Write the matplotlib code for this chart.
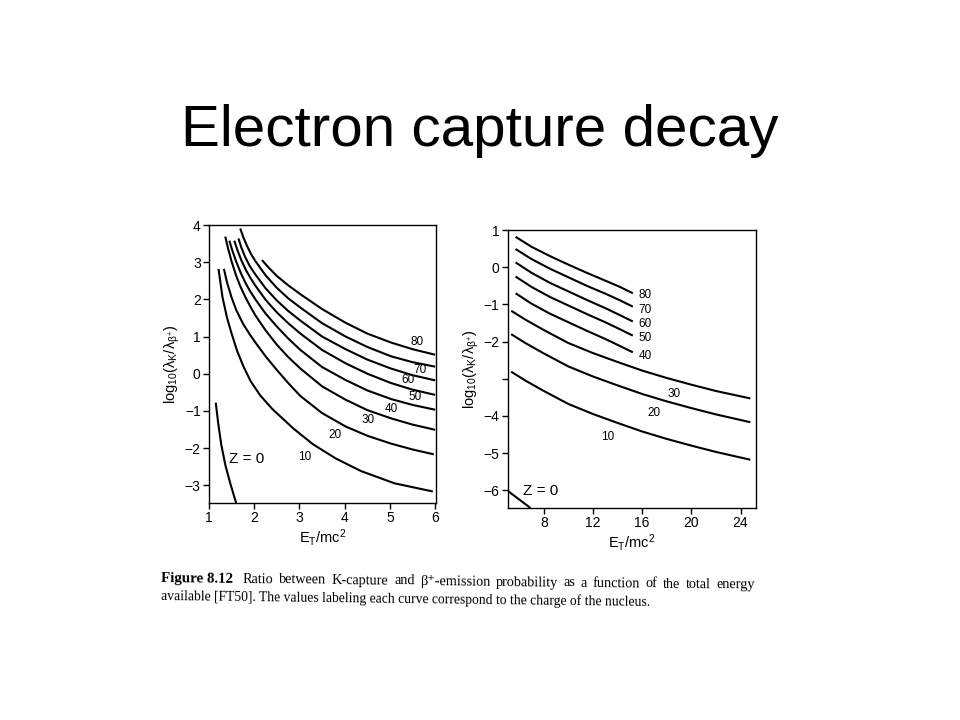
import math
import matplotlib
matplotlib.use('Agg')
import matplotlib.pyplot as plt

plt.rcParams['font.family'] = ['Liberation Sans', 'DejaVu Sans']
plt.rcParams['mathtext.default'] = 'regular'

# left panel: E_T/mc^2 from 1 to 6, log10 ratio
left_curves = {
    'Z=0': ([1.15, 1.20, 1.27, 1.36, 1.47, 1.60], [-0.78, -1.30, -1.90, -2.45, -2.95, -3.48]),
    '10': ([1.21, 1.30, 1.40, 1.50, 1.62, 1.76, 1.92, 2.13, 2.40, 2.87, 3.30, 3.80, 4.36, 5.10, 5.95],
           [2.82, 2.05, 1.50, 1.08, 0.62, 0.20, -0.20, -0.58, -0.95, -1.48, -1.90, -2.28, -2.62, -2.95, -3.17]),
    '20': ([1.33, 1.40, 1.50, 1.60, 1.75, 1.90, 2.02, 2.25, 2.50, 2.75, 3.02, 3.50, 4.02, 4.50, 5.02, 5.50, 5.97],
           [2.82, 2.45, 2.05, 1.72, 1.35, 1.06, 0.85, 0.47, 0.10, -0.25, -0.60, -1.06, -1.42, -1.67, -1.88, -2.04, -2.17]),
    '30': ([1.36, 1.42, 1.50, 1.60, 1.69, 1.80, 1.90, 2.02, 2.25, 2.50, 2.75, 3.02, 3.50, 4.02, 4.50, 5.02, 5.50, 6.0],
           [3.69, 3.38, 3.02, 2.64, 2.36, 2.07, 1.84, 1.58, 1.17, 0.78, 0.45, 0.14, -0.34, -0.70, -0.98, -1.20, -1.37, -1.51]),
    '40': ([1.45, 1.52, 1.60, 1.70, 1.80, 1.90, 2.02, 2.25, 2.50, 2.75, 3.02, 3.50, 4.02, 4.50, 5.02, 5.50, 6.0],
           [3.58, 3.30, 3.02, 2.72, 2.46, 2.24, 2.01, 1.62, 1.27, 0.95, 0.64, 0.18, -0.17, -0.45, -0.68, -0.84, -0.97]),
    '50': ([1.56, 1.63, 1.72, 1.82, 1.92, 2.02, 2.25, 2.50, 2.75, 3.02, 3.50, 4.02, 4.50, 5.02, 5.50, 6.0],
           [3.58, 3.32, 3.04, 2.78, 2.57, 2.38, 1.99, 1.65, 1.36, 1.08, 0.64, 0.28, 0.00, -0.25, -0.43, -0.57]),
    '60': ([1.65, 1.72, 1.80, 1.90, 2.02, 2.25, 2.50, 2.75, 3.02, 3.50, 4.02, 4.50, 5.02, 5.50, 6.0],
           [3.64, 3.38, 3.14, 2.90, 2.68, 2.30, 1.97, 1.69, 1.43, 1.00, 0.66, 0.38, 0.14, -0.04, -0.18]),
    '70': ([1.69, 1.76, 1.84, 1.93, 2.02, 2.25, 2.50, 2.75, 3.02, 3.50, 4.02, 4.50, 5.02, 5.50, 6.0],
           [3.91, 3.67, 3.44, 3.22, 3.04, 2.65, 2.31, 2.03, 1.78, 1.36, 1.00, 0.72, 0.47, 0.31, 0.19]),
    '80': ([2.17, 2.30, 2.50, 2.75, 3.02, 3.50, 4.02, 4.50, 5.02, 5.50, 6.0],
           [3.06, 2.88, 2.63, 2.38, 2.14, 1.74, 1.37, 1.08, 0.84, 0.66, 0.51]),
}
left_labels = {
    '80': (5.61, 0.85), '70': (5.67, 0.10), '60': (5.41, -0.18), '50': (5.56, -0.63),
    '40': (5.04, -0.96), '30': (4.52, -1.24), '20': (3.78, -1.66), '10': (3.11, -2.25),
}

# right panel: E_T/mc^2 from 5 to 25
right_curves = {
    'Z=0': ([5.07, 6.92], [-6.02, -6.48]),
    '10': ([5.34, 6.5, 8, 10, 12, 14, 16, 18, 20, 22, 24.8],
           [-2.81, -3.05, -3.33, -3.68, -3.95, -4.19, -4.42, -4.62, -4.80, -4.97, -5.18]),
    '20': ([5.34, 6.5, 8, 10, 12, 14, 16, 18, 20, 22, 24.8],
           [-1.80, -2.04, -2.32, -2.67, -2.94, -3.18, -3.41, -3.61, -3.79, -3.96, -4.17]),
    '30': ([5.34, 6.5, 8, 10, 12, 14, 16, 18, 20, 22, 24.8],
           [-1.17, -1.41, -1.69, -2.04, -2.31, -2.55, -2.78, -2.98, -3.16, -3.33, -3.53]),
    '40': ([5.70, 7, 8.5, 10, 11.5, 13, 14.2, 15.24], [-0.70, -0.98, -1.25, -1.48, -1.71, -1.93, -2.12, -2.29]),
    '50': ([5.70, 7, 8.5, 10, 11.5, 13, 14.2, 15.24], [-0.25, -0.53, -0.80, -1.03, -1.26, -1.48, -1.67, -1.84]),
    '60': ([5.70, 7, 8.5, 10, 11.5, 13, 14.2, 15.24], [0.13, -0.15, -0.42, -0.65, -0.88, -1.10, -1.29, -1.46]),
    '70': ([5.70, 7, 8.5, 10, 11.5, 13, 14.2, 15.24], [0.49, 0.22, -0.04, -0.27, -0.50, -0.71, -0.89, -1.06]),
    '80': ([5.70, 7, 8.5, 10, 11.5, 13, 14.2, 15.24], [0.82, 0.55, 0.30, 0.07, -0.15, -0.36, -0.53, -0.70]),
}
right_labels = {
    '80': (16.24, -0.75), '70': (16.24, -1.15), '60': (16.24, -1.54), '50': (16.24, -1.91),
    '40': (16.24, -2.38), '30': (18.6, -3.42), '20': (17.0, -3.93), '10': (13.2, -4.56),
}

left_xticks = [1, 2, 3, 4, 5, 6]
left_yticks = [4, 3, 2, 1, 0, -1, -2, -3]
right_xticks = [8, 12, 16, 20, 24]
right_yticks = [1, 0, -1, -2, -3, -4, -5, -6]
right_yticklabels = ['1', '0', '\u22121', '\u22122', '', '\u22124', '\u22125', '\u22126']

caption_bold = 'Figure 8.12'
caption_line1 = 'Ratio between K-capture and \u03b2\u207a-emission probability as a function of the total energy'
caption_line2 = 'available [FT50]. The values labeling each curve correspond to the charge of the nucleus.'

fig = plt.figure(figsize=(9.6, 7.2), dpi=100)
fig.patch.set_facecolor('white')

fig.text(0.5, 0.818, 'Electron capture decay', ha='center', va='center', fontsize=42)


def draw_panel(ax, curves, labels, z0_pos):
    for name, (xs, ys) in curves.items():
        ax.plot(xs, ys, color='black', lw=1.5, solid_capstyle='butt', solid_joinstyle='round')
    for name, (x, y) in labels.items():
        ax.text(x, y, name, fontsize=8.5, ha='center', va='center')
    ax.text(z0_pos[0], z0_pos[1], 'Z = 0', fontsize=11, ha='left', va='center')
    ax.tick_params(direction='out', length=4, width=1, labelsize=10, pad=2)
    for s in ax.spines.values():
        s.set_linewidth(1.0)
    ax.set_xlabel('E$_T$/mc$^2$', fontsize=10.5, labelpad=1)
    ax.set_ylabel(r'log$_{10}$($\lambda_K$/$\lambda_{\beta^{+}}$)', fontsize=10.5, labelpad=2)


ax1 = fig.add_axes([0.2177, 0.3014, 0.2365, 0.386])
ax1.set_xlim(1, 6.02)
ax1.set_ylim(-3.48, 4)
ax1.set_xticks(left_xticks)
ax1.set_yticks(left_yticks)
draw_panel(ax1, left_curves, left_labels, (1.45, -2.3))

ax2 = fig.add_axes([0.529, 0.2944, 0.259, 0.386])
ax2.set_xlim(5.07, 25.3)
ax2.set_ylim(-6.48, 1)
ax2.set_xticks(right_xticks)
ax2.set_yticks(right_yticks)
ax2.set_yticklabels(right_yticklabels)
draw_panel(ax2, right_curves, right_labels, (6.3, -6.03))

# caption: scanned page, first line justified and both lines slightly tilted
cap_font = ['Liberation Serif', 'DejaVu Serif']
W, H = 960.0, 720.0
tilt = 0.7
drop = math.tan(math.radians(tilt))


def cap_y(xpix, ypix):
    return 1 - (ypix + (xpix - 160) * drop) / H


fig.text(161 / W, cap_y(161, 578), caption_bold, fontsize=10.8, fontweight='bold', family=cap_font,
         va='center', rotation=-tilt, rotation_mode='anchor')
renderer = fig.canvas.get_renderer()
words = caption_line1.split(' ')
wtexts = [fig.text(0, 0, w, fontsize=10.3, family=cap_font, va='center',
                   rotation=-tilt, rotation_mode='anchor') for w in words]
widths = [t.get_window_extent(renderer).width for t in wtexts]
gap = (755 - 243 - sum(widths)) / (len(words) - 1)
xpos = 243
for t, w in zip(wtexts, widths):
    t.set_position((xpos / W, cap_y(xpos, 578)))
    xpos += w + gap
fig.text(161 / W, cap_y(161, 596), caption_line2, fontsize=9.8, family=cap_font, va='center',
         rotation=-tilt, rotation_mode='anchor')

fig.savefig('out.png', dpi=100, facecolor='white')
